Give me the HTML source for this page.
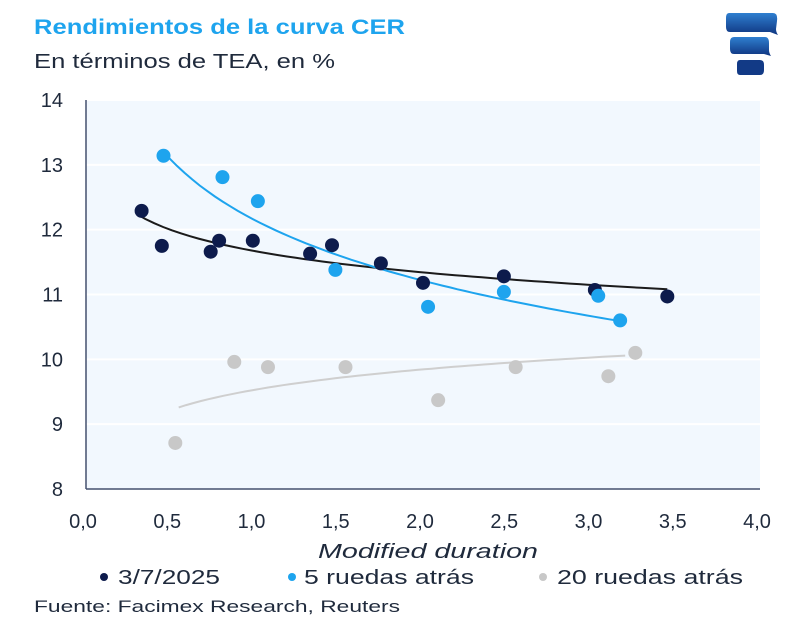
<!DOCTYPE html>
<html><head><meta charset="utf-8"><style>
body{margin:0;background:#fff;width:800px;height:629px;overflow:hidden;font-family:"Liberation Sans",sans-serif;}
</style></head><body>
<svg width="800" height="629" viewBox="0 0 800 629" xmlns="http://www.w3.org/2000/svg">
<defs><linearGradient id="lg" x1="0" y1="0" x2="0" y2="1"><stop offset="0" stop-color="#2f7fd0"/><stop offset="1" stop-color="#0f3580"/></linearGradient></defs>
<text x="34" y="34" font-size="21" font-weight="bold" fill="#1ea4ee" textLength="371" lengthAdjust="spacingAndGlyphs">Rendimientos de la curva CER</text>
<text x="34" y="68" font-size="20" fill="#1f2a3c" textLength="301" lengthAdjust="spacingAndGlyphs">En términos de TEA, en %</text>
<g>
<path d="M729 13h44q5 0 4 8l-1 8q0 3 2 6l-8-3h-40q-4 0-4-5v-9q0-5 3-5z" fill="url(#lg)"/>
<path d="M734 37h31q4 0 4 6v7q0 3 2 6l-7-2h-30q-4 0-4-5v-7q0-5 4-5z" fill="url(#lg)"/>
<path d="M740 60h20q4 0 4 5v5q0 5-4 5h-20q-3 0-3-4v-7q0-4 3-4z" fill="#123a86"/>
</g>
<g id="plot"></g>
<text x="318" y="558" font-size="20" font-style="italic" fill="#1f2a3c" textLength="220" lengthAdjust="spacingAndGlyphs">Modified duration</text>
<g font-size="20" fill="#1f2a3c">
<g><circle cx="104" cy="577" r="4" fill="#0d1b4c"/><text x="118" y="584" textLength="102" lengthAdjust="spacingAndGlyphs">3/7/2025</text></g>
<g><circle cx="292" cy="577" r="4" fill="#1ea4ee"/><text x="304" y="584" textLength="170" lengthAdjust="spacingAndGlyphs">5 ruedas atrás</text></g>
<g><circle cx="543" cy="577" r="4" fill="#c8c8c8"/><text x="557" y="584" textLength="186" lengthAdjust="spacingAndGlyphs">20 ruedas atrás</text></g>
</g>
<text x="34" y="612" font-size="17" fill="#1f2a3c" textLength="366" lengthAdjust="spacingAndGlyphs">Fuente: Facimex Research, Reuters</text>
</svg>
<script>
const xTicks=[0,0.5,1,1.5,2,2.5,3,3.5,4];
const xTickLabels=["0,0","0,5","1,0","1,5","2,0","2,5","3,0","3,5","4,0"];
const yTicks=[8,9,10,11,12,13,14];
const navyX=[0.33,0.45,0.74,0.79,0.99,1.33,1.46,1.75,2.00,2.48,3.02,3.45];
const navyY=[12.29,11.75,11.66,11.83,11.83,11.63,11.76,11.48,11.18,11.28,11.07,10.97];
const blueX=[0.46,0.81,1.02,1.48,2.03,2.48,3.04,3.17];
const blueY=[13.14,12.81,12.44,11.38,10.81,11.04,10.98,10.6];
const grayX=[0.53,0.88,1.08,1.54,2.09,2.55,3.10,3.26];
const grayY=[8.71,9.96,9.88,9.88,9.37,9.88,9.74,10.1];
const navyTrend=[11.67,-0.475,0.3,3.45];
const blueTrend=[12.15,-1.352,0.45,3.15];
const grayTrend=[9.53,0.454,0.55,3.2];
const X0=86,X1=760,Y0=489,Y1=100;
const sx=v=>X0+(v-0)/(4-0)*(X1-X0);
const sy=v=>Y0-(v-8)/(14-8)*(Y0-Y1);
const NS="http://www.w3.org/2000/svg";
const g=document.getElementById('plot');
function mk(t,a,p){const e=document.createElementNS(NS,t);for(const k in a)e.setAttribute(k,a[k]);(p||g).appendChild(e);return e;}
const bg=mk('rect',{x:X0,y:Y1,width:X1-X0,height:Y0-Y1,fill:'#f2f8fe'});


yTicks.forEach(t=>{
  if(t>8){const l=mk('line',{x1:X0,x2:X1,y1:sy(t),y2:sy(t),stroke:'#ffffff','stroke-width':2});
  
  }
  const tx=mk('text',{x:63,y:sy(t)+7,'font-size':20,'text-anchor':'end',fill:'#1f2a3c'});tx.textContent=t;
  
  
});
xTicks.forEach((t,i)=>{
  const tx=mk('text',{x:sx(t)-3,y:528,'font-size':20,'text-anchor':'middle',fill:'#1f2a3c'});tx.textContent=xTickLabels[i];
  
  
});
const ya=mk('line',{x1:X0,x2:X0,y1:Y1,y2:Y0,stroke:'#44516e','stroke-width':1.5});


const xa=mk('line',{x1:X0,x2:X1,y1:Y0,y2:Y0,stroke:'#44516e','stroke-width':1.5});


function trend(p,col,name){
  let d='';for(let i=0;i<=60;i++){const x=p[2]+(p[3]-p[2])*i/60;const y=p[0]+p[1]*Math.log(x);d+=(i?'L':'M')+sx(x).toFixed(1)+' '+sy(y).toFixed(1);}
  const e=mk('path',{d:d,fill:'none',stroke:col,'stroke-width':2});
  
  
}
function pts(xs,ys,col,name){
  xs.forEach((x,i)=>{const c=mk('circle',{cx:sx(x),cy:sy(ys[i]),r:7,fill:col});
  
  });
}
trend(grayTrend,'#cfcfcf','trendline-20-ruedas');
trend(navyTrend,'#1b1b1b','trendline-3-7-2025');
trend(blueTrend,'#1ea4ee','trendline-5-ruedas');
pts(grayX,grayY,'#c8c8c8','20-ruedas');
pts(navyX,navyY,'#0d1b4c','3-7-2025');
pts(blueX,blueY,'#1ea4ee','5-ruedas');
</script>
</body></html>
